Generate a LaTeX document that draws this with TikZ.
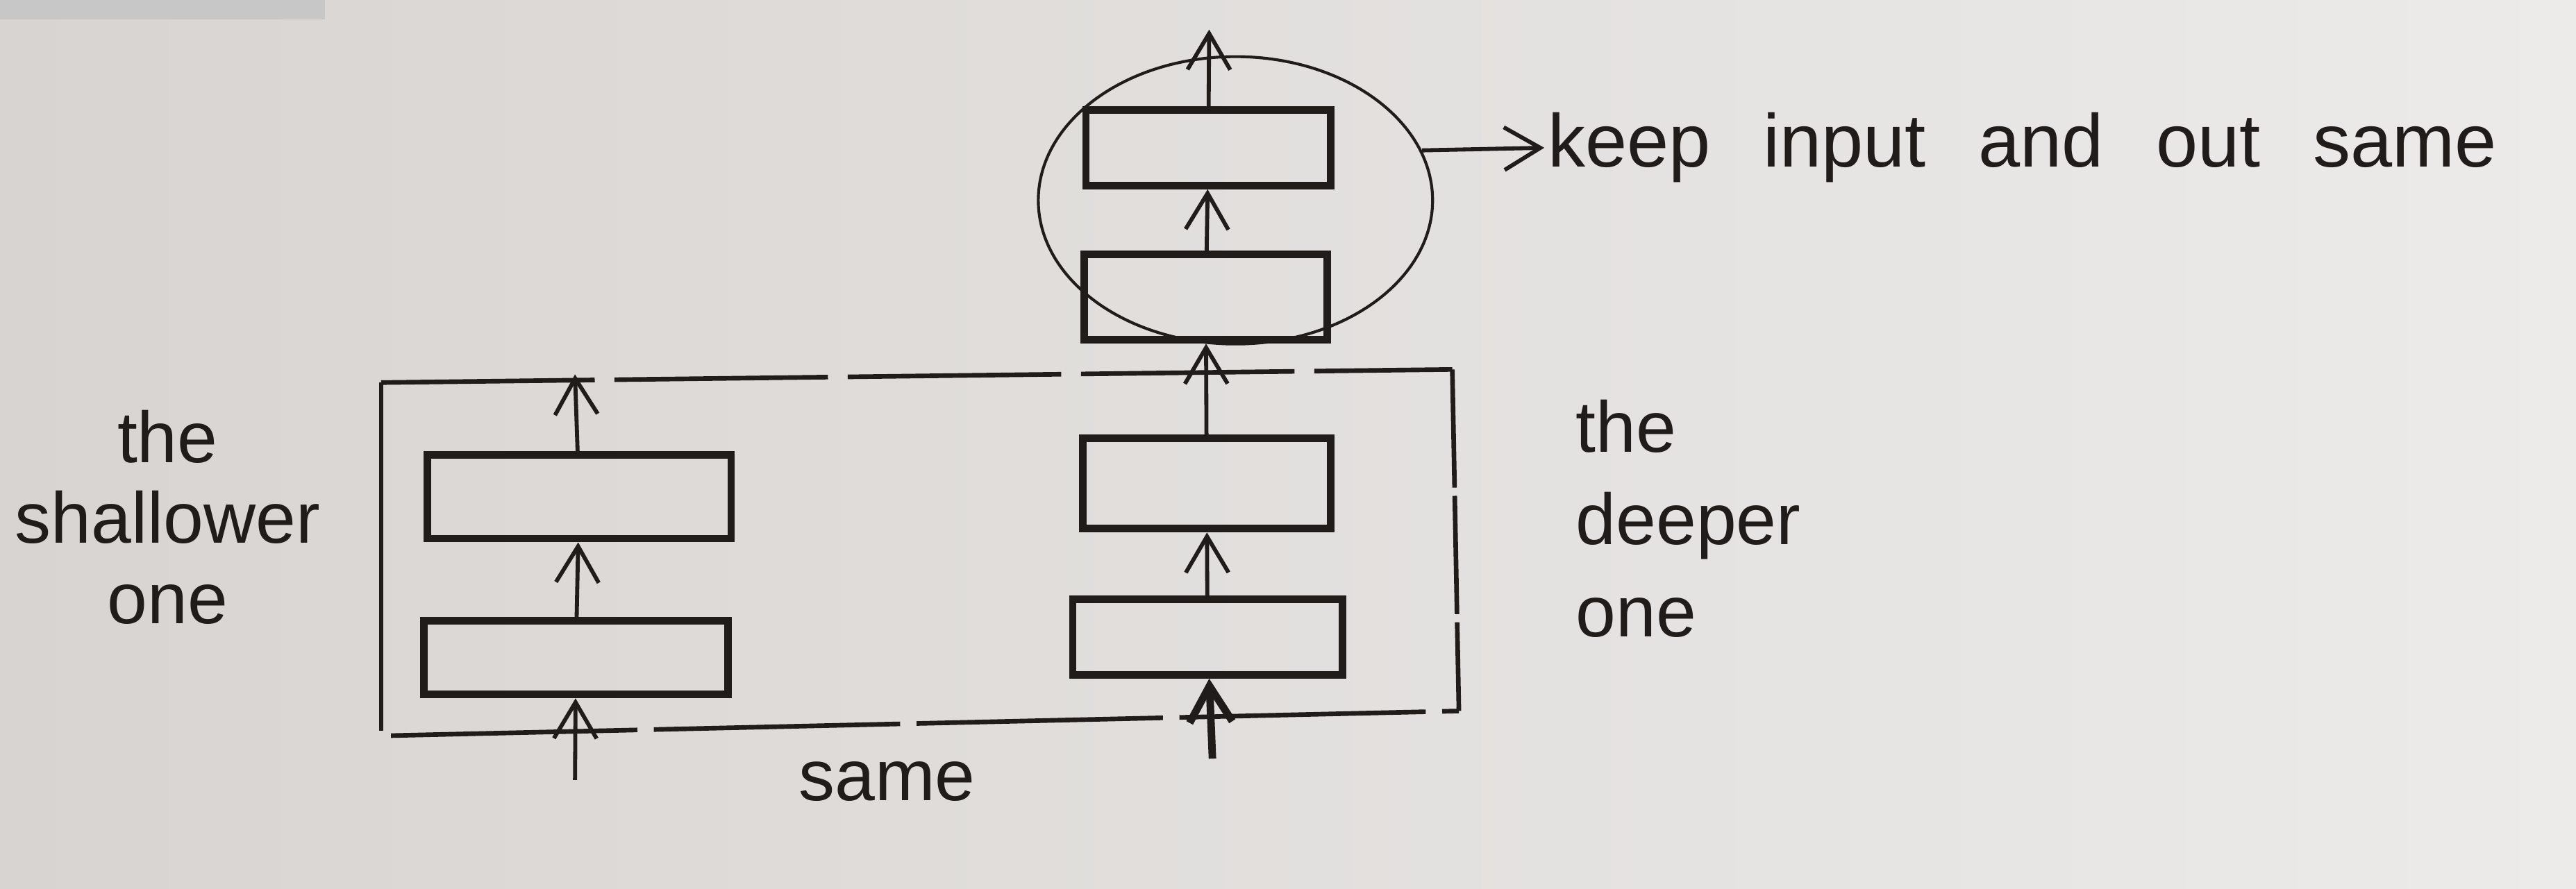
\documentclass[tikz,border=0pt]{standalone}
\usepackage{fontspec}
\setmainfont{Liberation Sans}
\usetikzlibrary{arrows.meta,shapes.geometric}
\definecolor{ink}{RGB}{32,28,26}
\definecolor{paperL}{RGB}{216,212,209}
\definecolor{paperR}{RGB}{236,235,234}
\newcommand\widewords{\spaceskip=.7em\relax}

\begin{document}
\begin{tikzpicture}
	[x=1cm,y=-1cm,every node/.style={draw=ink,line width=1.3pt,inner sep=0pt}]
	\tikzset{edge/.style = {-{Straight Barb[length=2.2mm,width=2.6mm]},draw=ink,line width=.7pt}}
	\tikzset{label/.style = {draw=none,text=ink,font=\fontsize{12.5}{14}\selectfont}}
	\tikzset{frame/.style = {draw=ink,line width=.8pt}}
	% paper
	\shade[left color=paperL,right color=paperR] (0,0) rectangle (15.68,5.41);
	\fill[black!22] (0,0) rectangle (1.98,0.12);
	\useasboundingbox (0,0) rectangle (15.68,5.41);

	% shallower net
	\node[minimum width=1.85cm,minimum height=.45cm] (s1) at (3.505,4.005) {};
	\node[minimum width=1.85cm,minimum height=.51cm] (s2) at (3.525,3.025) {};
	\coordinate (sin) at (3.50,4.75);
	\coordinate (sout) at (3.50,2.28);

	% deeper net
	\node[minimum width=1.64cm,minimum height=.46cm] (d1) at (7.35,3.88) {};
	\node[minimum width=1.51cm,minimum height=.55cm] (d2) at (7.345,2.945) {};
	\node[minimum width=1.48cm,minimum height=.52cm] (d3) at (7.34,1.81) {};
	\node[minimum width=1.49cm,minimum height=.46cm] (d4) at (7.355,.90) {};
	\coordinate (din) at (7.38,4.62);
	\coordinate (dout) at (7.36,.18);

	\foreach \from/\to in {sin/s1,s1/s2,s2/sout,d1/d2,d2/d3,d3/d4,d4/dout}
	\draw[edge] (\from)--(\to);
	\draw[edge,line width=1.3pt] (din)--(d1);

	% the frame round both
	\coordinate (fTL) at (2.32,2.33);
	\coordinate (fTR) at (8.84,2.25);
	\coordinate (fBR) at (8.88,4.33);
	\coordinate (fBL) at (2.38,4.48);
	\draw[frame,dash pattern=on 1.3cm off .12cm] (fTL)--(fTR);
	\draw[frame,dash pattern=on 1.5cm off .1cm] (fBL)--(fBR);
	\draw[frame] (fTL)--(2.32,4.45);
	\draw[frame,dash pattern=on .72cm off .05cm] (fTR)--(fBR);

	% circled part
	\node[ellipse,line width=.5pt,minimum width=2.4cm,minimum height=1.75cm] (keep) at (7.52,1.22) {};
	\node[label,anchor=west,font=\fontsize{13}{14}\selectfont\widewords] (note) at (9.40,.90) {keep input and out same};
	\draw[edge] (keep.15)--(note.west);

	\node[label,align=center] (shallow) at (1.02,3.15) {the\\shallower\\one};
	\node[label,align=left,anchor=west,font=\fontsize{12.5}{16}\selectfont] (deep) at (9.57,3.16) {the\\deeper\\one};
	\node[label] (same) at (5.40,4.76) {same};
\end{tikzpicture}
\end{document}
